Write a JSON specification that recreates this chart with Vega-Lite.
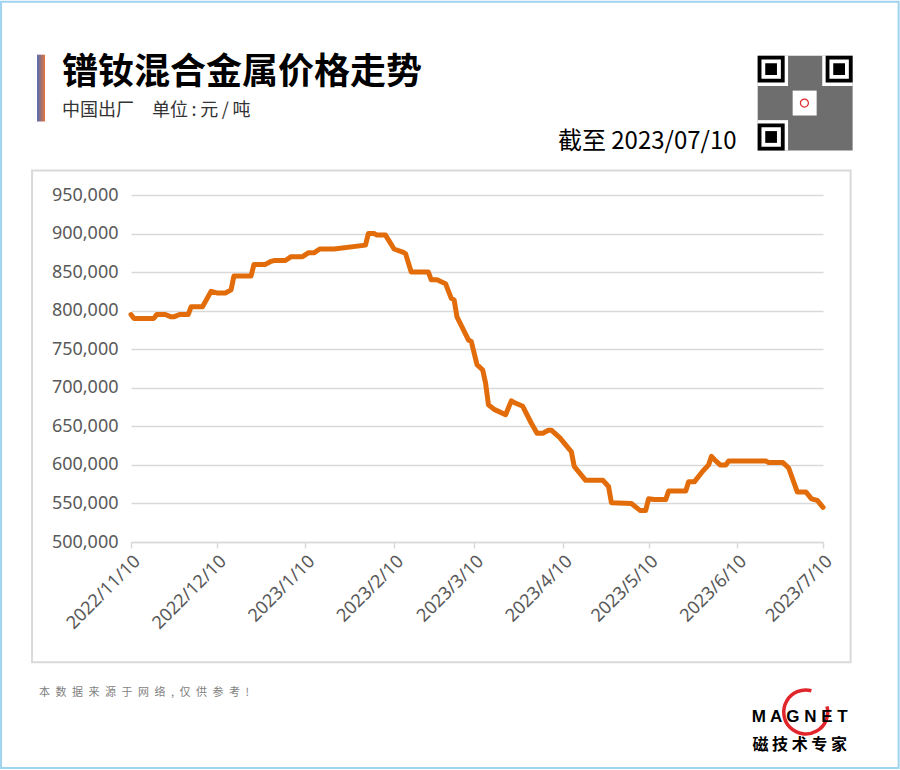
{
  "$schema": "https://vega.github.io/schema/vega-lite/v6.json",
  "width": 692,
  "height": 347,
  "autosize": {"type": "none"},
  "padding": {"left": 131, "top": 195, "right": 77, "bottom": 228},
  "background": "white",
  "config": {"view": {"stroke": null}},
  "resolve": {"axis": {"x": "independent", "y": "independent"}},
  "layer": [
    {
      "data": {
        "values": [
          {"date": "2022-11-10", "price": 795000},
          {"date": "2022-11-11", "price": 790000},
          {"date": "2022-11-18", "price": 790000},
          {"date": "2022-11-19", "price": 795000},
          {"date": "2022-11-22", "price": 795000},
          {"date": "2022-11-24", "price": 792000},
          {"date": "2022-11-25", "price": 792000},
          {"date": "2022-11-27", "price": 795000},
          {"date": "2022-11-30", "price": 795000},
          {"date": "2022-12-01", "price": 805000},
          {"date": "2022-12-05", "price": 805000},
          {"date": "2022-12-08", "price": 825000},
          {"date": "2022-12-10", "price": 823000},
          {"date": "2022-12-13", "price": 823000},
          {"date": "2022-12-15", "price": 827000},
          {"date": "2022-12-16", "price": 845000},
          {"date": "2022-12-22", "price": 845000},
          {"date": "2022-12-23", "price": 860000},
          {"date": "2022-12-27", "price": 860000},
          {"date": "2022-12-29", "price": 864000},
          {"date": "2022-12-30", "price": 865000},
          {"date": "2023-01-03", "price": 865000},
          {"date": "2023-01-05", "price": 870000},
          {"date": "2023-01-09", "price": 870000},
          {"date": "2023-01-11", "price": 875000},
          {"date": "2023-01-13", "price": 875000},
          {"date": "2023-01-15", "price": 880000},
          {"date": "2023-01-20", "price": 880000},
          {"date": "2023-01-31", "price": 885000},
          {"date": "2023-02-01", "price": 900000},
          {"date": "2023-02-03", "price": 900000},
          {"date": "2023-02-04", "price": 898000},
          {"date": "2023-02-07", "price": 898000},
          {"date": "2023-02-10", "price": 880000},
          {"date": "2023-02-13", "price": 876000},
          {"date": "2023-02-14", "price": 874000},
          {"date": "2023-02-16", "price": 850000},
          {"date": "2023-02-22", "price": 850000},
          {"date": "2023-02-23", "price": 840000},
          {"date": "2023-02-25", "price": 840000},
          {"date": "2023-02-28", "price": 835000},
          {"date": "2023-03-02", "price": 816000},
          {"date": "2023-03-03", "price": 814000},
          {"date": "2023-03-04", "price": 792000},
          {"date": "2023-03-08", "price": 762000},
          {"date": "2023-03-09", "price": 760000},
          {"date": "2023-03-11", "price": 730000},
          {"date": "2023-03-13", "price": 723000},
          {"date": "2023-03-14", "price": 706000},
          {"date": "2023-03-15", "price": 678000},
          {"date": "2023-03-17", "price": 672000},
          {"date": "2023-03-21", "price": 665000},
          {"date": "2023-03-23", "price": 683000},
          {"date": "2023-03-24", "price": 681000},
          {"date": "2023-03-27", "price": 676000},
          {"date": "2023-03-30", "price": 654000},
          {"date": "2023-04-01", "price": 641000},
          {"date": "2023-04-03", "price": 641000},
          {"date": "2023-04-05", "price": 645000},
          {"date": "2023-04-06", "price": 645000},
          {"date": "2023-04-09", "price": 635000},
          {"date": "2023-04-11", "price": 626000},
          {"date": "2023-04-13", "price": 617000},
          {"date": "2023-04-14", "price": 598000},
          {"date": "2023-04-18", "price": 580000},
          {"date": "2023-04-24", "price": 580000},
          {"date": "2023-04-26", "price": 572000},
          {"date": "2023-04-27", "price": 551000},
          {"date": "2023-05-04", "price": 550000},
          {"date": "2023-05-06", "price": 544000},
          {"date": "2023-05-07", "price": 541000},
          {"date": "2023-05-09", "price": 541000},
          {"date": "2023-05-10", "price": 556000},
          {"date": "2023-05-12", "price": 555000},
          {"date": "2023-05-16", "price": 555000},
          {"date": "2023-05-17", "price": 566000},
          {"date": "2023-05-23", "price": 566000},
          {"date": "2023-05-24", "price": 578000},
          {"date": "2023-05-26", "price": 578000},
          {"date": "2023-05-29", "price": 592000},
          {"date": "2023-05-31", "price": 600000},
          {"date": "2023-06-01", "price": 611000},
          {"date": "2023-06-02", "price": 607000},
          {"date": "2023-06-04", "price": 600000},
          {"date": "2023-06-06", "price": 600000},
          {"date": "2023-06-07", "price": 605000},
          {"date": "2023-06-20", "price": 605000},
          {"date": "2023-06-21", "price": 603000},
          {"date": "2023-06-26", "price": 603000},
          {"date": "2023-06-28", "price": 596000},
          {"date": "2023-07-01", "price": 565000},
          {"date": "2023-07-04", "price": 565000},
          {"date": "2023-07-06", "price": 556000},
          {"date": "2023-07-08", "price": 554000},
          {"date": "2023-07-10", "price": 545000}
        ],
        "format": {"parse": {"date": "date:'%Y-%m-%d'"}}
      },
      "mark": {"type": "line", "color": "#E36C0A", "strokeWidth": 5, "strokeJoin": "round", "strokeCap": "round"},
      "encoding": {
        "x": {
          "field": "date",
          "type": "temporal",
          "scale": {"domain": [{"year": 2022, "month": 11, "date": 10}, {"year": 2023, "month": 7, "date": 10}], "nice": false},
          "axis": {
            "title": null,
            "grid": false,
            "values": [
              {"year": 2022, "month": 11, "date": 10},
              {"year": 2022, "month": 12, "date": 10},
              {"year": 2023, "month": 1, "date": 10},
              {"year": 2023, "month": 2, "date": 10},
              {"year": 2023, "month": 3, "date": 10},
              {"year": 2023, "month": 4, "date": 10},
              {"year": 2023, "month": 5, "date": 10},
              {"year": 2023, "month": 6, "date": 10},
              {"year": 2023, "month": 7, "date": 10}
            ],
            "format": "%Y/%-m/%-d",
            "formatType": "time",
            "labelAngle": -45,
            "labelFont": "Noto Sans",
            "labelFontSize": 18,
            "labelColor": "#595959",
            "labelPadding": 4,
            "labelOverlap": false,
            "labelBound": false,
            "labelFlush": false,
            "domainColor": "#d9d9d9",
            "domainWidth": 1.5,
            "tickColor": "#d9d9d9",
            "tickWidth": 1.5,
            "tickSize": 6,
            "zindex": 0
          }
        },
        "y": {
          "field": "price",
          "type": "quantitative",
          "scale": {"domain": [500000, 950000], "nice": false, "zero": false},
          "axis": {
            "title": null,
            "values": [500000, 550000, 600000, 650000, 700000, 750000, 800000, 850000, 900000, 950000],
            "labelExpr": "floor(datum.value / 1000) + ',000'",
            "domain": false,
            "ticks": false,
            "labelPadding": 13,
            "labelFont": "Noto Sans",
            "labelFontSize": 18,
            "labelColor": "#595959",
            "gridColor": "#d9d9d9",
            "gridWidth": 1.5,
            "zindex": 0
          }
        }
      }
    },
    {
      "data": {"values": [{}]},
      "mark": {"type": "rect", "fill": null, "stroke": "#d9d9d9", "strokeWidth": 2},
      "encoding": {
        "x": {"datum": {"year": 2022, "month": 10, "date": 6, "hours": 9, "minutes": 36}, "type": "temporal", "axis": null},
        "x2": {"datum": {"year": 2023, "month": 7, "date": 19, "hours": 15, "minutes": 50}},
        "y": {"datum": 981900, "type": "quantitative", "axis": null},
        "y2": {"datum": 344110}
      }
    },
    {
      "data": {"values": [{}]},
      "mark": {"type": "rect", "fill": null, "stroke": "#9fd3ef", "strokeWidth": 2},
      "encoding": {
        "x": {"datum": {"year": 2022, "month": 9, "date": 25, "hours": 13, "minutes": 26}, "type": "temporal", "axis": null},
        "x2": {"datum": {"year": 2023, "month": 8, "date": 5, "hours": 10, "minutes": 34}},
        "y": {"datum": 1200540, "type": "quantitative", "axis": null},
        "y2": {"datum": 206977}
      }
    },
    {
      "data": {"values": [{}]},
      "mark": {
        "type": "rect",
        "fill": {"gradient": "linear", "x1": 0, "y1": 0, "x2": 1, "y2": 0, "stops": [{"offset": 0, "color": "#4f6db2"}, {"offset": 1, "color": "#e8743b"}]}
      },
      "encoding": {
        "x": {"datum": {"year": 2022, "month": 10, "date": 8, "hours": 3, "minutes": 20}, "type": "temporal", "axis": null},
        "x2": {"datum": {"year": 2022, "month": 10, "date": 10, "hours": 22, "minutes": 30}},
        "y": {"datum": 1131970, "type": "quantitative", "axis": null},
        "y2": {"datum": 1045295}
      }
    },
    {
      "data": {"values": [{}]},
      "mark": {"type": "text", "text": "镨钕混合金属价格走势", "font": "Noto Sans CJK SC", "fontSize": 36, "fontWeight": "bold", "color": "#000000", "align": "left", "baseline": "alphabetic"},
      "encoding": {
        "x": {"datum": {"year": 2022, "month": 10, "date": 16, "hours": 21}, "type": "temporal", "axis": null},
        "y": {"datum": 1094455, "type": "quantitative", "axis": null}
      }
    },
    {
      "data": {"values": [{}]},
      "mark": {"type": "text", "text": "中国出厂　单位\u2009:\u2009元\u2009/\u2009吨", "font": "Noto Sans CJK SC", "fontSize": 18, "color": "#333333", "align": "left", "baseline": "alphabetic"},
      "encoding": {
        "x": {"datum": {"year": 2022, "month": 10, "date": 16, "hours": 21}, "type": "temporal", "axis": null},
        "y": {"datum": 1052410, "type": "quantitative", "axis": null}
      }
    },
    {
      "data": {"values": [{}]},
      "mark": {"type": "text", "text": "截至 2023/07/10", "font": "Noto Sans CJK SC", "fontSize": 24, "color": "#000000", "align": "right", "baseline": "alphabetic"},
      "encoding": {
        "x": {"datum": {"year": 2023, "month": 6, "date": 9, "hours": 19, "minutes": 12}, "type": "temporal", "axis": null},
        "y": {"datum": 1009718, "type": "quantitative", "axis": null}
      }
    },
    {
      "data": {"values": [{}]},
      "mark": {"type": "rect", "fill": "#6e6e6e"},
      "encoding": {
        "x": {"datum": {"year": 2023, "month": 6, "date": 17, "hours": 3, "minutes": 50}, "type": "temporal", "axis": null},
        "x2": {"datum": {"year": 2023, "month": 7, "date": 20, "hours": 8, "minutes": 38}},
        "y": {"datum": 1130679, "type": "quantitative", "axis": null},
        "y2": {"datum": 1007777}
      }
    },
    {
      "data": {"values": [{}]},
      "mark": {"type": "rect", "fill": "#ffffff"},
      "encoding": {
        "x": {"datum": {"year": 2023, "month": 6, "date": 17, "hours": 3, "minutes": 50}, "type": "temporal", "axis": null},
        "x2": {"datum": {"year": 2023, "month": 6, "date": 27, "hours": 18, "minutes": 43}},
        "y": {"datum": 1130679, "type": "quantitative", "axis": null},
        "y2": {"datum": 1091350}
      }
    },
    {
      "data": {"values": [{}]},
      "mark": {"type": "rect", "fill": "#ffffff"},
      "encoding": {
        "x": {"datum": {"year": 2023, "month": 7, "date": 9, "hours": 17, "minutes": 31}, "type": "temporal", "axis": null},
        "x2": {"datum": {"year": 2023, "month": 7, "date": 20, "hours": 8, "minutes": 38}},
        "y": {"datum": 1130679, "type": "quantitative", "axis": null},
        "y2": {"datum": 1091350}
      }
    },
    {
      "data": {"values": [{}]},
      "mark": {"type": "rect", "fill": "#ffffff"},
      "encoding": {
        "x": {"datum": {"year": 2023, "month": 6, "date": 17, "hours": 3, "minutes": 50}, "type": "temporal", "axis": null},
        "x2": {"datum": {"year": 2023, "month": 6, "date": 27, "hours": 18, "minutes": 43}},
        "y": {"datum": 1047106, "type": "quantitative", "axis": null},
        "y2": {"datum": 1007777}
      }
    },
    {
      "data": {"values": [{}]},
      "mark": {"type": "rect", "fill": "#ffffff"},
      "encoding": {
        "x": {"datum": {"year": 2023, "month": 6, "date": 29, "hours": 9, "minutes": 22}, "type": "temporal", "axis": null},
        "x2": {"datum": {"year": 2023, "month": 7, "date": 7, "hours": 18, "minutes": 43}},
        "y": {"datum": 1085399, "type": "quantitative", "axis": null},
        "y2": {"datum": 1053057}
      }
    },
    {
      "data": {"values": [{}]},
      "mark": {"type": "rect", "fill": null, "stroke": "#000000", "strokeWidth": 3.8},
      "encoding": {
        "x": {"datum": {"year": 2023, "month": 6, "date": 17, "hours": 19, "minutes": 40}, "type": "temporal", "axis": null},
        "x2": {"datum": {"year": 2023, "month": 6, "date": 25, "hours": 22, "minutes": 20}},
        "y": {"datum": 1128221, "type": "quantitative", "axis": null},
        "y2": {"datum": 1098207}
      }
    },
    {
      "data": {"values": [{}]},
      "mark": {"type": "rect", "fill": "#000000"},
      "encoding": {
        "x": {"datum": {"year": 2023, "month": 6, "date": 19, "hours": 19, "minutes": 12}, "type": "temporal", "axis": null},
        "x2": {"datum": {"year": 2023, "month": 6, "date": 23, "hours": 21, "minutes": 36}},
        "y": {"datum": 1120847, "type": "quantitative", "axis": null},
        "y2": {"datum": 1105581}
      }
    },
    {
      "data": {"values": [{}]},
      "mark": {"type": "rect", "fill": null, "stroke": "#000000", "strokeWidth": 3.8},
      "encoding": {
        "x": {"datum": {"year": 2023, "month": 7, "date": 11, "hours": 14, "minutes": 10}, "type": "temporal", "axis": null},
        "x2": {"datum": {"year": 2023, "month": 7, "date": 19, "hours": 16, "minutes": 48}},
        "y": {"datum": 1128221, "type": "quantitative", "axis": null},
        "y2": {"datum": 1098207}
      }
    },
    {
      "data": {"values": [{}]},
      "mark": {"type": "rect", "fill": "#000000"},
      "encoding": {
        "x": {"datum": {"year": 2023, "month": 7, "date": 13, "hours": 13, "minutes": 55}, "type": "temporal", "axis": null},
        "x2": {"datum": {"year": 2023, "month": 7, "date": 17, "hours": 16, "minutes": 48}},
        "y": {"datum": 1120847, "type": "quantitative", "axis": null},
        "y2": {"datum": 1105581}
      }
    },
    {
      "data": {"values": [{}]},
      "mark": {"type": "rect", "fill": null, "stroke": "#000000", "strokeWidth": 3.8},
      "encoding": {
        "x": {"datum": {"year": 2023, "month": 6, "date": 17, "hours": 19, "minutes": 40}, "type": "temporal", "axis": null},
        "x2": {"datum": {"year": 2023, "month": 6, "date": 25, "hours": 22, "minutes": 20}},
        "y": {"datum": 1040249, "type": "quantitative", "axis": null},
        "y2": {"datum": 1010235}
      }
    },
    {
      "data": {"values": [{}]},
      "mark": {"type": "rect", "fill": "#000000"},
      "encoding": {
        "x": {"datum": {"year": 2023, "month": 6, "date": 19, "hours": 19, "minutes": 12}, "type": "temporal", "axis": null},
        "x2": {"datum": {"year": 2023, "month": 6, "date": 23, "hours": 21, "minutes": 36}},
        "y": {"datum": 1032873, "type": "quantitative", "axis": null},
        "y2": {"datum": 1017607}
      }
    },
    {
      "data": {"values": [{}]},
      "mark": {"type": "point", "shape": "circle", "size": 64, "filled": false, "stroke": "#e0262a", "strokeWidth": 1.2, "opacity": 1},
      "encoding": {
        "x": {"datum": {"year": 2023, "month": 7, "date": 3, "hours": 12}, "type": "temporal", "axis": null},
        "y": {"datum": 1069228, "type": "quantitative", "axis": null}
      }
    },
    {
      "data": {"values": [{}]},
      "mark": {"type": "text", "text": "本\u2002数\u2002据\u2002来\u2002源\u2002于\u2002网\u2002络\u2002,\u2002仅\u2002供\u2002参\u2002考\u2002!", "font": "Noto Sans CJK SC", "fontSize": 11, "color": "#7f7f7f", "align": "left", "baseline": "middle"},
      "encoding": {
        "x": {"datum": {"year": 2022, "month": 10, "date": 8, "hours": 20, "minutes": 10}, "type": "temporal", "axis": null},
        "y": {"datum": 304004, "type": "quantitative", "axis": null}
      }
    },
    {
      "data": {"values": [{}]},
      "mark": {"type": "point", "shape": "M 0.26 -0.97 A 1 1 0 1 0 0.97 -0.26", "size": 1936, "filled": false, "stroke": "#e0262a", "strokeWidth": 3.5, "opacity": 1},
      "encoding": {
        "x": {"datum": {"year": 2023, "month": 7, "date": 3, "hours": 22, "minutes": 19}, "type": "temporal", "axis": null},
        "y": {"datum": 279424, "type": "quantitative", "axis": null}
      }
    },
    {
      "data": {"values": [{}]},
      "mark": {"type": "text", "text": "M A G N E T", "font": "Liberation Sans", "fontSize": 17, "fontWeight": "bold", "color": "#000000", "align": "center", "baseline": "middle"},
      "encoding": {
        "x": {"datum": {"year": 2023, "month": 7, "date": 1, "hours": 20}, "type": "temporal", "axis": null},
        "y": {"datum": 272956, "type": "quantitative", "axis": null}
      }
    },
    {
      "data": {"values": [{}]},
      "mark": {"type": "text", "text": "磁 技 术 专 家", "font": "Noto Sans CJK SC", "fontSize": 16, "fontWeight": "bold", "color": "#000000", "align": "center", "baseline": "middle"},
      "encoding": {
        "x": {"datum": {"year": 2023, "month": 7, "date": 1, "hours": 20}, "type": "temporal", "axis": null},
        "y": {"datum": 236732, "type": "quantitative", "axis": null}
      }
    }
  ]
}
